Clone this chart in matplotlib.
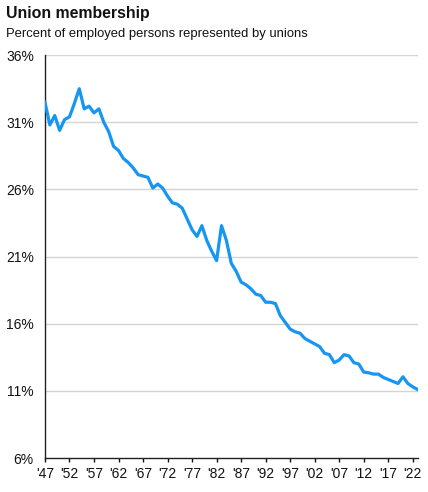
import numpy as np
import matplotlib
matplotlib.use('Agg')
import matplotlib.pyplot as plt

plt.rcParams['font.family'] = ['Liberation Sans', 'DejaVu Sans']

# Union representation rate, percent of employed persons
years = list(range(1947, 2024))
rate = [
    32.5, 30.8, 31.5, 30.4, 31.2, 31.4, 32.4, 33.5, 32.0, 32.2,   # 1947-56
    31.7, 32.0, 31.0, 30.3, 29.2, 28.9, 28.3, 28.0, 27.6, 27.1,   # 1957-66
    27.0, 26.9, 26.1, 26.4, 26.1, 25.5, 25.0, 24.9, 24.6, 23.8,   # 1967-76
    23.0, 22.5, 23.3, 22.2, 21.4, 20.7, 23.3, 22.2, 20.5, 19.9,   # 1977-86
    19.1, 18.9, 18.6, 18.2, 18.1, 17.6, 17.6, 17.5, 16.6, 16.1,   # 1987-96
    15.6, 15.4, 15.3, 14.9, 14.7, 14.5, 14.3, 13.8, 13.7, 13.1,   # 1997-06
    13.3, 13.7, 13.6, 13.1, 13.0, 12.4, 12.35, 12.25, 12.25, 12.0,  # 2007-16
    11.85, 11.7, 11.55, 12.05, 11.55, 11.3, 11.1,                  # 2017-23
]

xticks = list(range(1947, 2023, 5))
xlabels = ["'" + str(y)[2:] for y in xticks]
yticks = [6, 11, 16, 21, 26, 31, 36]
ylabels = [f'{v}%' for v in yticks]

fig = plt.figure(figsize=(4.28, 4.92), dpi=100)
ax = fig.add_axes([0.105, 0.069, 0.872, 0.819])

ax.plot(years, rate, color='#1496f2', lw=2.3, solid_joinstyle='round', zorder=3)

ax.set_xlim(1947, 2023.1)
ax.set_ylim(6, 36)
ax.set_xticks(xticks)
ax.set_xticklabels(xlabels)
ax.set_yticks(yticks)
ax.set_yticklabels(ylabels)

for v in yticks[1:]:
    ax.axhline(v, color='#d4d4d4', lw=1.0, zorder=1)

for s in ['top', 'right']:
    ax.spines[s].set_visible(False)
for s in ['left', 'bottom']:
    ax.spines[s].set_color('#222222')
    ax.spines[s].set_linewidth(1.0)

ax.tick_params(axis='y', length=0, pad=8, labelsize=10, colors='#111111')
ax.tick_params(axis='x', length=3, width=1, pad=3.5, labelsize=10, colors='#111111')

fig.text(0.014, 0.963, 'Union membership', fontsize=11.4, fontweight='bold', color='#111111')
fig.text(0.014, 0.924, 'Percent of employed persons represented by unions', fontsize=9.4, color='#111111')

fig.savefig('out.png', dpi=100)
